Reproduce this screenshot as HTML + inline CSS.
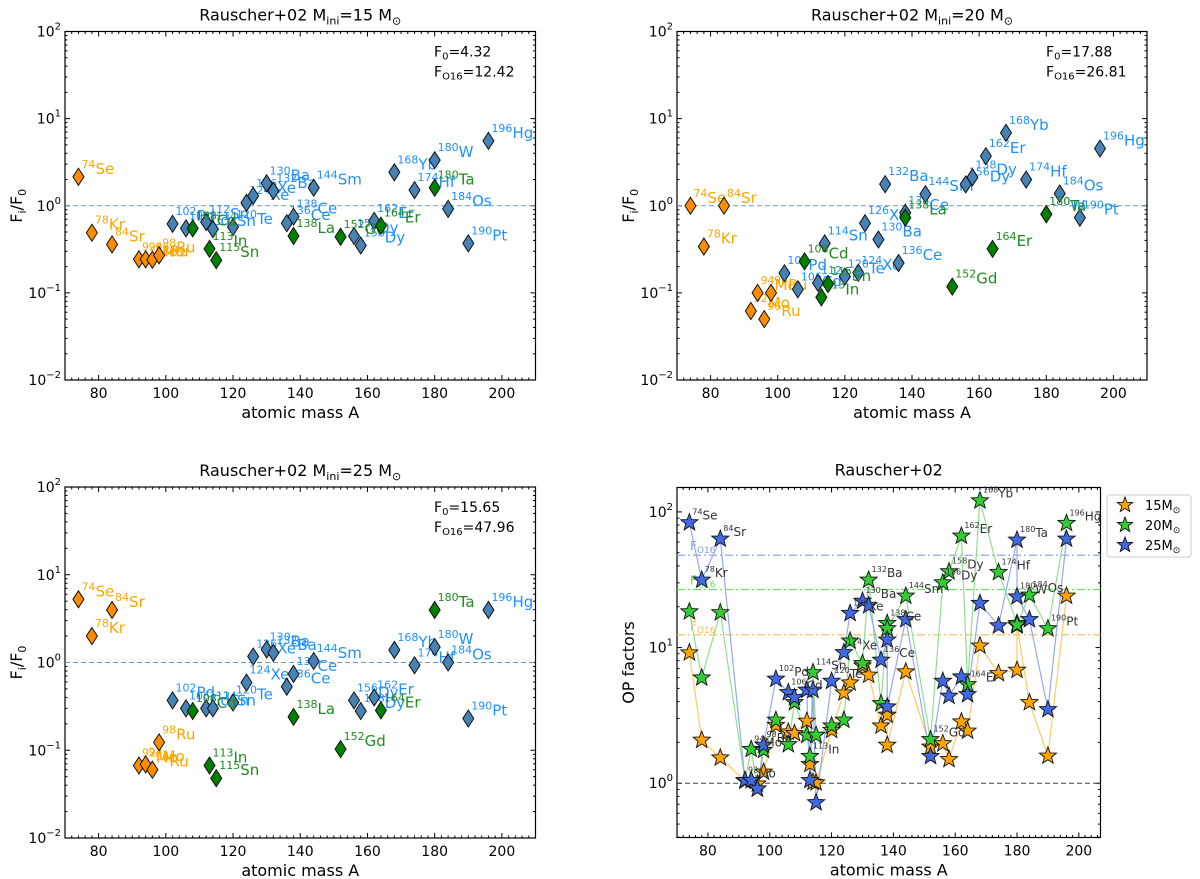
<!DOCTYPE html>
<html><head><meta charset="utf-8"><title>Rauscher+02 OP factors</title>
<style>
body{margin:0;background:#fff;}
svg{display:block;font-family:"DejaVu Sans","Liberation Sans",sans-serif;}
</style></head>
<body>
<svg id="fig" width="1200" height="879" viewBox="0 0 1200 879" xmlns="http://www.w3.org/2000/svg"></svg>
<script>
// ---- data ----
const orangeIso = ["74Se","78Kr","84Sr","92Mo","94Mo","96Ru","98Ru"];
const blueIso = ["102Pd","106Cd","112Sn","114Sn","120Te","124Xe","126Xe","130Ba","132Ba","136Ce","138Ce","144Sm","156Dy","158Dy","162Er","168Yb","174Hf","180W","184Os","190Pt","196Hg"];
const greenIso = ["108Cd","113In","115Sn","138La","152Gd","164Er","180Ta"];

const p15Orange = [2.15,0.49,0.36,0.243,0.243,0.24,0.27];
const p15Blue = [0.62,0.55,0.65,0.54,0.57,1.08,1.30,1.81,1.48,0.63,0.75,1.61,0.45,0.35,0.67,2.42,1.51,3.34,0.92,0.37,5.56];
const p15Green = [0.55,0.32,0.237,0.45,0.44,0.59,1.61];

const p20Orange = [1.0,0.34,1.0,0.062,0.10,0.05,0.10];
const p20Blue = [0.168,0.11,0.13,0.37,0.154,0.17,0.63,0.41,1.77,0.22,0.83,1.36,1.76,2.12,3.71,6.87,2.0,0.8,1.38,0.73,4.54];
const p20Green = [0.23,0.089,0.126,0.73,0.118,0.32,0.8];

const p25Orange = [5.25,2.0,3.97,0.067,0.069,0.06,0.123];
const p25Blue = [0.37,0.30,0.30,0.30,0.35,0.59,1.17,1.41,1.29,0.53,0.74,1.04,0.37,0.28,0.40,1.39,0.93,1.5,1.0,0.23,3.97];
const p25Green = [0.28,0.067,0.048,0.24,0.103,0.285,3.97];

const F0Values = ["4.32","17.88","15.65"];
const FO16Values = [12.42,26.81,47.96];
const massTicks = [80,100,120,140,160,180,200];

// OP factors panel
const opIso = ["74Se","78Kr","84Sr","92Mo","94Mo","96Ru","98Ru","102Pd","106Cd","108Cd","112Sn","113In","114Sn","115Sn","120Te","124Xe","126Xe","130Ba","132Ba","136Ce","138Ce","138La","144Sm","152Gd","156Dy","158Dy","162Er","164Er","168Yb","174Hf","180Ta","180W","184Os","190Pt","196Hg"];
const op15 = [9.16,2.08,1.54,1.04,1.05,0.99,1.21,2.68,2.39,2.33,2.87,1.38,1.02,1.01,2.46,4.64,5.50,7.34,6.27,2.65,3.18,1.91,6.63,1.85,1.96,1.50,2.84,2.43,10.3,6.45,6.82,14.5,3.94,1.59,24.0];
const op20 = [18.4,5.99,18.1,1.05,1.78,0.91,1.75,2.92,1.93,3.94,2.26,1.58,6.56,2.26,2.65,2.92,11.2,7.64,31.5,3.87,15.1,13.8,24.0,2.10,30.1,36.3,66.5,5.35,121,35.9,15.1,14.7,24.4,13.8,82.5];
const op25 = [83.4,31.5,63.2,1.05,1.05,0.91,1.91,5.86,4.67,4.29,4.86,1.05,4.86,0.72,5.66,9.2,17.9,22.0,20.4,8.09,11.4,3.66,16.1,1.58,5.66,4.39,6.09,4.51,21.2,14.5,62.1,23.7,16.1,3.50,63.2];
const opLabelled = ["74Se","78Kr","84Sr","92Mo","94Mo","98Ru","102Pd","106Cd","114Sn","113In","120Te","124Xe","126Xe","130Ba","132Ba","136Ce","138Ce","144Sm","152Gd","156Dy","158Dy","162Er","164Er","168Yb","174Hf","180Ta","180W","184Os","190Pt","196Hg"];
const legendLabels = ["15M","20M","25M"];

// ---- helpers ----
const NS="http://www.w3.org/2000/svg";
const svg=document.getElementById('fig');
function mk(tag,attrs,parent){const e=document.createElementNS(NS,tag);for(const k in attrs)e.setAttribute(k,attrs[k]);(parent||svg).appendChild(e);return e;}
function splitIso(s){const m=s.match(/^(\d+)(\D+)$/);return [m[1],m[2]];}
function isoLabel(g,x,y,iso,color,big,small,name){
  const [n,el]=splitIso(iso);
  const t=mk('text',{x:x,y:y,fill:color,'font-size':big},g);
  
  
  const s1=mk('tspan',{'font-size':small,dy:-Math.round(big*0.4)},t);s1.textContent=n;
  const s2=mk('tspan',{dy:Math.round(big*0.4)},t);s2.textContent=el;
  return t;
}
function frame(g,L,T,R,B,xmin,xmax,ymin,ymax,X,Y,xTickLabels){
  mk('rect',{x:L,y:T,width:R-L,height:B-T,fill:'none',stroke:'#000','stroke-width':1.2},g);
  for(let a=Math.ceil(xmin/2)*2;a<=xmax;a+=2){
    const x=X(a),maj=(a%20===0),len=maj?5:2.5;
    mk('line',{x1:x,x2:x,y1:B,y2:B-len,stroke:'#000','stroke-width':1},g);
    mk('line',{x1:x,x2:x,y1:T,y2:T+len,stroke:'#000','stroke-width':1},g);
  }
  for(const a of xTickLabels){
    const t=mk('text',{x:X(a),y:B+18,'text-anchor':'middle','font-size':14,fill:'#000'},g);
    
    
    t.textContent=a;
  }
  for(let d=Math.floor(ymin);d<=Math.ceil(ymax);d++){
    for(let m=1;m<10;m++){
      const lv=d+Math.log10(m);
      if(lv<ymin-1e-6||lv>ymax+1e-6)continue;
      const y=Y(Math.pow(10,lv)),len=m===1?5:2.5;
      mk('line',{x1:L,x2:L+len,y1:y,y2:y,stroke:'#000','stroke-width':1},g);
      mk('line',{x1:R,x2:R-len,y1:y,y2:y,stroke:'#000','stroke-width':1},g);
      if(m===1){
        const t=mk('text',{x:L-4,y:y+5,'text-anchor':'end','font-size':14,fill:'#000'},g);
        
        
        t.appendChild(document.createTextNode('10'));
        const s=mk('tspan',{'font-size':10,dy:-7},t);
        s.textContent=(d<0?'\u2212'+(-d):''+d);
      }
    }
  }
  const xl=mk('text',{x:(L+R)/2,y:B+38,'text-anchor':'middle','font-size':16,fill:'#000'},g);
  
  
  xl.textContent='atomic mass A';
}
function diamond(g,x,y,fill,name){
  const p=mk('polygon',{points:`${x},${y-8.5} ${x+5.5},${y} ${x},${y+8.5} ${x-5.5},${y}`,fill:fill,stroke:'#111','stroke-width':1},g);
  
  
}
function starPts(x,y,r){let s=[];for(let i=0;i<10;i++){const a=-Math.PI/2+i*Math.PI/5,rr=i%2?r*0.42:r;s.push((x+rr*Math.cos(a)).toFixed(1)+','+(y+rr*Math.sin(a)).toFixed(1));}return s.join(' ');}
function massOf(iso){return +splitIso(iso)[0];}

// ---- diamond panels ----
const panels=[
 {L:65,T:31.5,R:535.5,B:380,mass:15,o:p15Orange,b:p15Blue,g:p15Green,idx:0},
 {L:677,T:31.5,R:1147,B:380,mass:20,o:p20Orange,b:p20Blue,g:p20Green,idx:1},
 {L:65,T:487,R:535.5,B:838,mass:25,o:p25Orange,b:p25Blue,g:p25Green,idx:2}
];
panels.forEach(P=>{
  const g=mk('g',{});
  
  
  const xmin=70,xmax=210,ymin=-2,ymax=2;
  const X=a=>P.L+(a-xmin)/(xmax-xmin)*(P.R-P.L);
  const Y=v=>P.B-(Math.log10(v)-ymin)/(ymax-ymin)*(P.B-P.T);
  frame(g,P.L,P.T,P.R,P.B,xmin,xmax,ymin,ymax,X,Y,massTicks);
  const t=mk('text',{x:(P.L+P.R)/2,y:P.T-11,'text-anchor':'middle','font-size':16,fill:'#000'},g);
  
  
  t.appendChild(document.createTextNode('Rauscher+02 M'));
  let s=mk('tspan',{'font-size':11,dy:4},t);s.textContent='ini';
  s=mk('tspan',{dy:-4},t);s.textContent='='+P.mass+' M';
  s=mk('tspan',{'font-size':11,dy:4},t);s.textContent='\u2299';
  const yl=mk('text',{x:P.L-43,y:(P.T+P.B)/2,'text-anchor':'middle','font-size':16,transform:`rotate(-90 ${P.L-43} ${(P.T+P.B)/2})`},g);
  
  
  yl.appendChild(document.createTextNode('F'));
  s=mk('tspan',{'font-size':11,dy:4},yl);s.textContent='i';
  s=mk('tspan',{dy:-4},yl);s.textContent='/F';
  s=mk('tspan',{'font-size':11,dy:4},yl);s.textContent='0';
  const dl=mk('line',{x1:P.L,x2:P.R,y1:Y(1),y2:Y(1),stroke:'#6f9cc6','stroke-width':1,'stroke-dasharray':'5,3'},g);
  
  
  const a1=mk('text',{x:P.L+369,y:P.T+25,'font-size':14},g);
  
  
  a1.appendChild(document.createTextNode('F'));
  s=mk('tspan',{'font-size':10,dy:3},a1);s.textContent='0';
  s=mk('tspan',{dy:-3},a1);s.textContent='='+F0Values[P.idx];
  const a2=mk('text',{x:P.L+369,y:P.T+45,'font-size':14},g);
  
  
  a2.appendChild(document.createTextNode('F'));
  s=mk('tspan',{'font-size':10,dy:3},a2);s.textContent='O16';
  s=mk('tspan',{dy:-3},a2);s.textContent='='+FO16Values[P.idx].toFixed(2);
  const groups=[[orangeIso,P.o,'#ff8c00','#ffa500'],[blueIso,P.b,'#4682b4','#1e90ff'],[greenIso,P.g,'#008000','#228b22']];
  groups.forEach(([isos,vals,fill,tc])=>{
    isos.forEach((iso,i)=>{
      const x=X(massOf(iso)),y=Y(vals[i]);
      diamond(g,x,y,fill,'point-'+iso.toLowerCase());
      isoLabel(g,x+3,y-3,iso,tc,15,11,'label-'+iso.toLowerCase());
    });
  });
});

// ---- OP factors panel ----
(function(){
  const L=677,T=487.5,R=1100.5,B=837.5,xmin=70,xmax=207,ymin=-0.4,ymax=2.18;
  const g=mk('g',{});
  
  
  const X=a=>L+(a-xmin)/(xmax-xmin)*(R-L);
  const Y=v=>B-(Math.log10(v)-ymin)/(ymax-ymin)*(B-T);
  frame(g,L,T,R,B,xmin,xmax,ymin,ymax,X,Y,massTicks);
  const t=mk('text',{x:(L+R)/2,y:T-12,'text-anchor':'middle','font-size':16},g);
  
  
  t.textContent='Rauscher+02';
  const yl=mk('text',{x:L-43,y:(T+B)/2,'text-anchor':'middle','font-size':16,transform:`rotate(-90 ${L-43} ${(T+B)/2})`},g);
  
  
  yl.textContent='OP factors';
  const dl=mk('line',{x1:L,x2:R,y1:Y(1),y2:Y(1),stroke:'#444','stroke-width':1,'stroke-dasharray':'5,3'},g);
  
  
  const cols=['#ffa500','#32cd32','#4169e1'];
  const lineCols=['#ffc966','#8fe08f','#95a9ee'];
  const refCols=['#f5b942','#66dd66','#7f9be8'];
  const series=[op15,op20,op25];
  FO16Values.forEach((v,i)=>{
    const l=mk('line',{x1:L,x2:R,y1:Y(v),y2:Y(v),stroke:refCols[i],'stroke-width':1.2,'stroke-dasharray':'8,3,2,3'},g);
    
    
    const tx=mk('text',{x:L+13,y:Y(v)-5,'font-size':12,fill:refCols[i]},g);
    
    
    tx.appendChild(document.createTextNode('F'));
    const s=mk('tspan',{'font-size':9,dy:3},tx);s.textContent='O16';
  });
  series.forEach((vals,k)=>{
    const pts=opIso.map((iso,i)=>X(massOf(iso)).toFixed(1)+','+Y(vals[i]).toFixed(1)).join(' ');
    const pl=mk('polyline',{points:pts,fill:'none',stroke:lineCols[k],'stroke-width':1.2},g);
    
    
  });
  series.forEach((vals,k)=>{
    opIso.forEach((iso,i)=>{
      const st=mk('polygon',{points:starPts(X(massOf(iso)),Y(vals[i]),9),fill:cols[k],stroke:'#111','stroke-width':0.9},g);
      
      
    });
  });
  opLabelled.forEach(iso=>{
    const i=opIso.indexOf(iso);
    const mx=Math.max(op15[i],op20[i],op25[i]);
    isoLabel(g,X(massOf(iso))+3,Y(mx)-3,iso,'#333',12,8,'op-label-'+iso.toLowerCase());
  });
  const lg=mk('g',{});
  
  
  mk('rect',{x:1107,y:495,width:84,height:62,rx:3,fill:'#fff',stroke:'#ccc','stroke-width':1},lg);
  legendLabels.forEach((lab,k)=>{
    const y=505+k*20;
    const st=mk('polygon',{points:starPts(1125,y,8),fill:cols[k],stroke:'#111','stroke-width':0.9},lg);
    
    
    const tx=mk('text',{x:1145,y:y+5,'font-size':13},lg);
    
    
    tx.appendChild(document.createTextNode(lab));
    const s=mk('tspan',{'font-size':9,dy:3},tx);s.textContent='\u2299';
  });
})();
</script>
</body></html>
